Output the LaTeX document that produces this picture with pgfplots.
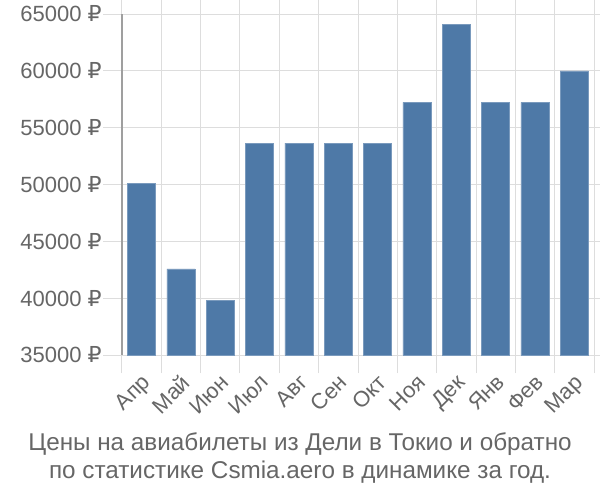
\documentclass[border=0pt]{standalone}
\usepackage{fontspec}
\setmainfont{Liberation Sans}
\newfontfamily\rub{DejaVu Sans}
\usepackage{pgfplots}
\pgfplotsset{compat=1.18}
\definecolor{barblue}{HTML}{4E79A7}
\definecolor{txt}{HTML}{666666}
\definecolor{gridc}{HTML}{DDDDDD}
\newcommand{\R}{{\rub ₽}}
\begin{document}
\begin{tikzpicture}
\useasboundingbox (-91.5pt,-108.75pt) rectangle (358.5pt,266.25pt);
\begin{axis}[
  name=ax, at={(0pt,0pt)}, anchor=south west,
  scale only axis, width=354pt, height=255.75pt,
  xmin=-0.5, xmax=11.5, ymin=35000, ymax=65000,
  scaled y ticks=false,
  axis line style={draw=none},
  xtick={0,...,11},
  xticklabels={Апр,Май,Июн,Июл,Авг,Сен,Окт,Ноя,Дек,Янв,Фев,Мар},
  minor xtick={-0.5,0.5,...,11.5},
  ytick={35000,40000,45000,50000,55000,60000,65000},
  yticklabels={35000 \R,40000 \R,45000 \R,50000 \R,55000 \R,60000 \R,65000 \R},
  tick align=outside,
  major tick length=14pt, minor tick length=13.5pt,
  every major x tick/.append style={draw=none},
  every tick/.append style={gridc, line width=0.75pt},
  ymajorgrids, xminorgrids,
  grid style={gridc, line width=0.75pt},
  tick label style={font=\fontsize{16.5}{19}\selectfont, text=txt},
  x tick label style={rotate=45, anchor=north east, inner sep=1pt, xshift=1pt, yshift=2pt},
  y tick label style={inner sep=1pt},
  ybar, bar width=0.72,
]
\addplot[fill=barblue, draw=barblue!75!white, line width=0.5pt] coordinates {
(0,50100) (1,42580) (2,39800) (3,53630) (4,53630) (5,53630) (6,53630)
(7,57220) (8,64090) (9,57220) (10,57220) (11,60000)};
\end{axis}
\draw[color=gray!75, line width=1pt] (ax.south west) -- (ax.north west);
\node[text=txt, font=\fontsize{18.2}{21}\selectfont] at (133.5pt,-67pt) {Цены на авиабилеты из Дели в Токио и обратно};
\node[text=txt, font=\fontsize{18.2}{21}\selectfont] at (133.5pt,-88pt) {по статистике Csmia.aero в динамике за год.};
\end{tikzpicture}
\end{document}
